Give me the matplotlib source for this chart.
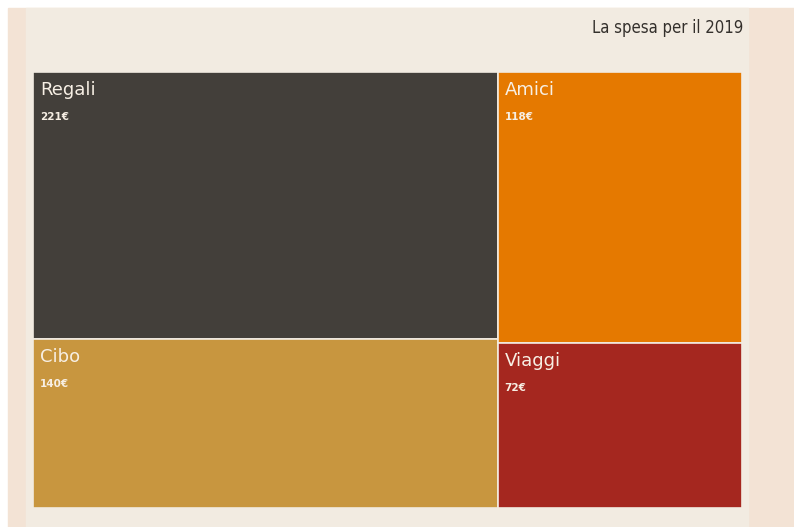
import matplotlib.pyplot as plt
from matplotlib.patches import Rectangle
from matplotlib import font_manager

# data
labels = ['Regali', 'Cibo', 'Amici', 'Viaggi']
values = [221, 140, 118, 72]
columns = [0, 0, 1, 1]  # which column of the treemap each tile sits in
colors = ['#433f3a', '#c8963f', '#e57900', '#a5271f']

cond = [f for f in font_manager.fontManager.ttflist
        if ('condensed' in str(f.stretch).lower() or 'Condensed' in f.name or 'Narrow' in f.name)
        and f.style == 'normal']
cond.sort(key=lambda f: abs(int(f.weight) - 400) if str(f.weight).isdigit() else (0 if f.weight == 'normal' else 300))

W, H = 794, 527
fig = plt.figure(figsize=(W / 100, H / 100), dpi=100)
fig.patch.set_facecolor('white')

# background layers (figure pixel coords)
bg = fig.add_axes([0, 0, 1, 1])
bg.set_xlim(0, W)
bg.set_ylim(H, 0)
bg.axis('off')
bg.add_patch(Rectangle((8, 8), W - 8, H - 8, color='#f3e3d5'))
bg.add_patch(Rectangle((26, 8), 722, H - 8, color='#f2ebe1'))

if cond:
    tfont = font_manager.FontProperties(fname=cond[0].fname, size=12)
else:
    tfont = font_manager.FontProperties(family='DejaVu Sans', size=10.5)
bg.text(743, 33, 'La spesa per il 2019', ha='right', va='baseline',
        fontproperties=tfont, color='#34302c')

# treemap area
x0, y0, w, h = 33, 72, 709, 436
ax = fig.add_axes([x0 / W, 1 - (y0 + h) / H, w / W, h / H])
ax.set_xlim(0, 1)
ax.set_ylim(1, 0)
ax.axis('off')

total = sum(values)
col_sums = [sum(v for v, c in zip(values, columns) if c == k) for k in (0, 1)]
xs = [0, col_sums[0] / total]
ys = [0, 0]
for lab, val, col, colr in zip(labels, values, columns, colors):
    cw = col_sums[col] / total
    ch = val / col_sums[col]
    x, y = xs[col], ys[col]
    ax.add_patch(Rectangle((x, y), cw, ch, facecolor=colr,
                           edgecolor='#f2ebe1', linewidth=1.2))
    ax.text(x + 7 / w, y + 23 / h, lab, ha='left', va='baseline',
            fontsize=13, color='#f7efe4')
    ax.text(x + 7 / w, y + 48 / h, f'{val}€', ha='left', va='baseline',
            fontsize=7.5, fontweight='bold', color='#f7efe4')
    ys[col] += ch

fig.savefig('out.png', dpi=100, facecolor=fig.get_facecolor())
